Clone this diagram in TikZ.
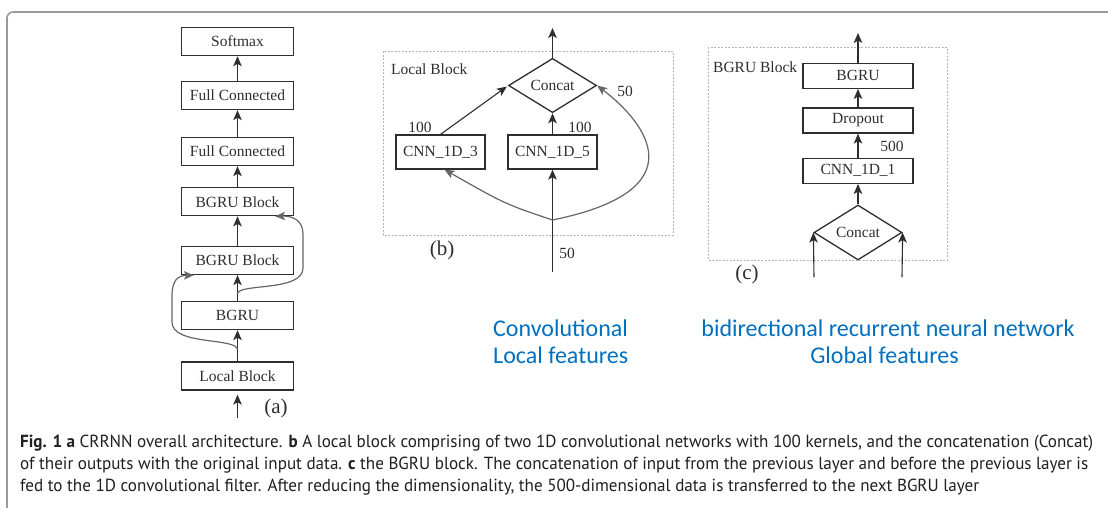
\documentclass[tikz,border=0pt]{standalone}
\usepackage{fontspec}
\setmainfont{Liberation Serif}
\newfontfamily\capfont{PT Sans}
\newfontfamily\notefont{Carlito}
\usetikzlibrary{shapes.geometric,arrows.meta,calc}

\definecolor{edgec}{HTML}{2E2E2E}
\definecolor{skipc}{HTML}{666666}
\definecolor{framec}{HTML}{9A9A9A}
\definecolor{dashc}{HTML}{B4B4B4}
\definecolor{notec}{HTML}{0070C0}
\definecolor{capc}{HTML}{231F20}

\newlength\capw
\newcommand\capsize{\capfont\fontsize{17.5}{20}\selectfont}
\newcommand\caplineone{\textbf{Fig. 1 a} CRRNN overall architecture. \textbf{b} A local block comprising of two 1D convolutional networks with 100 kernels, and the concatenation (Concat)}

\tikzset{
  x=1pt, y=-1pt,
  txt/.style={font=\fontsize{15.5}{18}\selectfont, text=edgec},
  layer/.style={txt, draw=edgec, line width=1.3pt, inner sep=0pt,
    minimum width=112pt, minimum height=28pt, fill=white},
  cnnbox/.style={layer, minimum width=89pt, minimum height=34pt},
  cbox/.style={layer, minimum width=110pt, minimum height=25pt},
  joiner/.style={txt, draw=edgec, line width=1.3pt, shape=diamond, inner sep=0pt,
    minimum width=88pt, minimum height=48pt, fill=white},
  tipshape/.style={-{Stealth[length=10pt,width=8.5pt,inset=2.5pt]}},
  arr/.style={draw=edgec, line width=1.1pt, tipshape},
  skiparr/.style={draw=skipc, line width=1.2pt, tipshape},
  groupbox/.style={draw=dashc, line width=0.8pt, dash pattern=on 2pt off 1.5pt},
  num/.style={txt, inner sep=0pt},
  tag/.style={font=\fontsize{21}{24}\selectfont, text=edgec, inner sep=0pt},
  note/.style={font=\notefont\fontsize{24}{28}\selectfont, text=notec, inner sep=0pt},
  capline/.style={font=\capsize, text=capc, inner sep=0pt, anchor=base west},
}

\begin{document}
\settowidth\capw{\capsize\caplineone}%
\pgfmathsetmacro\capratio{1073pt/\capw}%
\begin{tikzpicture}
\useasboundingbox (0,0) rectangle (1108,507);
\fill[white] (0,0) rectangle (1108,507);

% outer frame
\draw[framec, line width=1.6pt, rounded corners=6pt] (7,515) -- (7,12) -- (1115,12);

% ---------------- (a) overall architecture ----------------
\node[layer] (soft) at (237.5,41.6)  {Softmax};
\node[layer] (fc1)  at (237.5,95.5)  {Full Connected};
\node[layer] (fc2)  at (237.5,151.5) {Full Connected};
\node[layer] (bb1)  at (237.5,201.7) {BGRU Block};
\node[layer] (bb2)  at (237.5,260.5) {BGRU Block};
\node[layer] (bgru) at (237.5,315.5) {BGRU};
\node[layer] (loc)  at (237.5,376)   {Local Block};
\coordinate (ina) at (237.5,418);
\coordinate (spl1) at (237.5,350);
\coordinate (spl2) at (237.5,294);

\draw[arr] (fc1) -- (soft);
\draw[arr] (fc2) -- (fc1);
\draw[arr] (bb1) -- (fc2);
\draw[arr] (bb2) -- (bb1);
\draw[arr] (bgru) -- (bb2);
\draw[arr] (loc) -- (bgru);
\draw[arr, shorten >=4pt] (ina) -- (loc);

\draw[skiparr] (spl1) .. controls (237.5,337) and (172,346) .. (172,322)
  -- (172,296) .. controls (172,280) and (178,275.5) .. ($(bb2.south west)+(13,0)$);
\draw[skiparr] (spl2) .. controls (237.5,283) and (303,292) .. (303,268)
  -- (303,234) .. controls (303,220) and (292,215.7) .. ($(bb1.south east)+(-19,0)$);

\node[tag] (taga) at (276,408) {(a)};

% ---------------- (b) local block ----------------
\draw[groupbox] (383,51) rectangle (673,235);
\node[txt, anchor=west, inner sep=0pt] (lbl) at (391,69) {Local Block};

\node[joiner] (catb) at (552.5,85.5) {Concat};
\node[cnnbox] (c3) at (440.5,152) {CNN\_1D\_3};
\node[cnnbox] (c5) at (552.5,152) {CNN\_1D\_5};
\coordinate (outb) at (552.5,28);
\coordinate (inb) at (552.5,272);
\coordinate (splb) at (552.5,220);

\draw[arr] (catb.north) -- (outb);
\draw[arr] (c5.north) -- (catb.south);
\draw[arr] (c3.north) -- ($(catb.west)+(-1,1)$);
\draw[arr] (inb) -- (c5.south);
\draw[skiparr] (splb) .. controls (505,204) .. ($(c3.south)+(4,0)$);
\draw[skiparr] (splb) .. controls (700,190) and (645,122) .. (catb.east);

\node[num] (n1) at (420,127) {100};
\node[num] (n2) at (580,127) {100};
\node[num] (n3) at (625,91)  {50};
\node[num] (n4) at (567,253) {50};
\node[tag] (tagb) at (442,250) {(b)};

% ---------------- (c) BGRU block ----------------
\draw[groupbox] (708,47) rectangle (947,260);
\node[txt, anchor=west, inner sep=0pt] (lblc) at (713,67) {BGRU Block};

\node[cbox] (bg) at (858,75.8)  {BGRU};
\node[cbox] (dr) at (858,120.5) {Dropout};
\node[cbox] (c1) at (858,170.8) {CNN\_1D\_1};
\node[joiner, minimum height=55pt] (catc) at (858,232.5) {Concat};
\coordinate (outc) at (858,33);
\coordinate (inl) at (814,277);
\coordinate (inr) at (902,277);

\draw[arr] (bg.north) -- (outc);
\draw[arr] (dr) -- (bg);
\draw[arr] (c1) -- (dr);
\draw[arr] (catc.north) -- (c1);
\draw[arr] (inl) -- (catc.west);
\draw[arr] (inr) -- (catc.east);

\node[num] (n5) at (892,146) {500};
\node[tag] (tagc) at (747,274) {(c)};

% ---------------- notes ----------------
\node[note, anchor=base west] (nb1) at (493,336) {Convolutional};
\node[note, anchor=base west] (nb2) at (493,363.5) {Local features};
\node[note, anchor=base] (nc1) at (888,336) {bidirectional recurrent neural network};
\node[note, anchor=base] (nc2) at (884.5,363.5) {Global features};

% ---------------- caption ----------------
\node[capline] (cap1) at (20,447) {\scalebox{\capratio}[1]{\caplineone}};
\node[capline] (cap2) at (20,469) {\scalebox{\capratio}[1]{of their outputs with the original input data. \textbf{c} the BGRU block. The concatenation of input from the previous layer and before the previous layer is}};
\node[capline] (cap3) at (20,491) {\scalebox{\capratio}[1]{fed to the 1D convolutional filter. After reducing the dimensionality, the 500-dimensional data is transferred to the next BGRU layer}};
\end{tikzpicture}
\end{document}
